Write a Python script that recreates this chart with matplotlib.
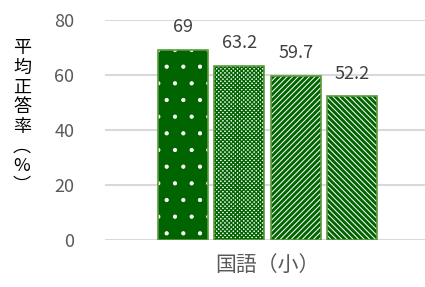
import matplotlib.pyplot as plt
import numpy as np

plt.rcParams['font.family'] = ['Noto Sans CJK JP', 'DejaVu Sans']

category = "国語（小）"
values = [69, 63.2, 59.7, 52.2]
labels = ["69", "63.2", "59.7", "52.2"]
yticks = [0, 20, 40, 60, 80]

dark = "#006400"
border = "#5b9a3c"

fig = plt.figure(figsize=(4.25, 2.87), dpi=100)
ax = fig.add_axes([105 / 425, 1 - 240 / 287, 325 / 425, 220 / 287])

step = 56.3 / 325
width = 50 / 325
pos = (np.arange(len(values)) - 1.5) * step

styles = [
    dict(face=dark, hatch='.', hcol="white", lw=0.6),
    dict(face="white", hatch='xxxxxxxx', hcol=dark, lw=1.0),
    dict(face="white", hatch='//////', hcol=dark, lw=2.1),
    dict(face="white", hatch='\\\\\\\\\\\\', hcol=dark, lw=2.1),
]

for x, v, lab, st in zip(pos, values, labels, styles):
    bars = ax.bar(x, v, width, color=st["face"], hatch=st["hatch"],
                  edgecolor=st["hcol"], linewidth=0, zorder=2)
    for p in bars:
        p.set_hatch_linewidth(st["lw"])
    ax.bar(x, v, width, color="none", edgecolor=border, linewidth=1.2, zorder=3)
    ax.text(x, v + 5, lab, ha="center", va="bottom", fontsize=13,
            color="#404040", clip_on=False)

ax.set_xlim(-0.5, 0.5)
ax.set_ylim(0, 80)
ax.set_yticks(yticks)
ax.set_xticks([0])
ax.tick_params(axis="both", length=0, labelsize=13, colors="#595959")
ax.set_xticklabels([category], fontsize=15)
ax.tick_params(axis="x", pad=10)
ax.tick_params(axis="y", pad=22)
ax.yaxis.grid(True, color="#d9d9d9", linewidth=1.5, zorder=0)
ax.set_axisbelow(True)
for s in ax.spines.values():
    s.set_visible(False)

vert = "\n".join(["平", "均", "正", "答", "率", "︵", "%", "︶"])
fig.text(22 / 425, 1 - 117 / 287, vert, ha="center", va="center",
         fontsize=13, color="black", linespacing=1.12)

fig.savefig("out.png", dpi=100)
